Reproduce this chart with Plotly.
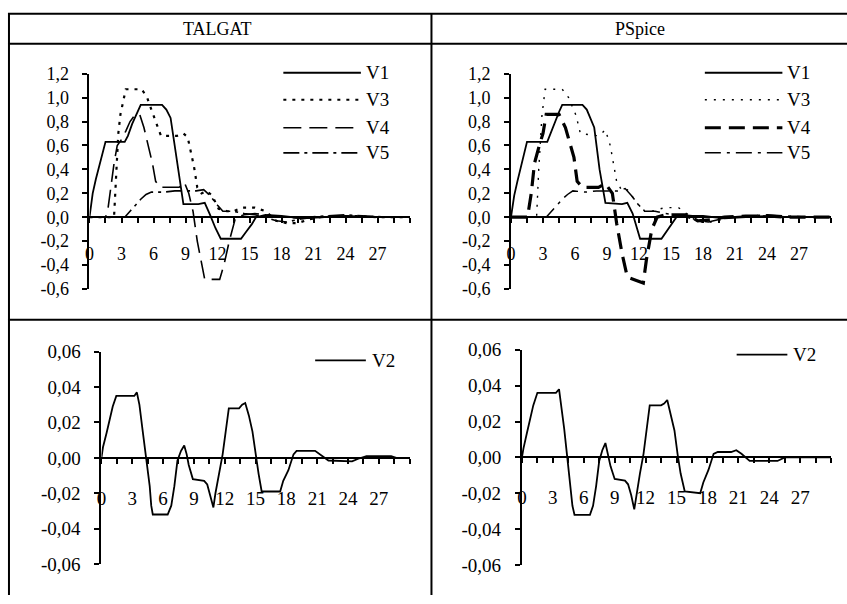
import plotly.graph_objects as go

# ---------------- DATA ----------------
x_tick_vals = [0, 3, 6, 9, 12, 15, 18, 21, 24, 27]
x_tick_text = ["0", "3", "6", "9", "12", "15", "18", "21", "24", "27"]
top_y_vals = [-0.6, -0.4, -0.2, 0.0, 0.2, 0.4, 0.6, 0.8, 1.0, 1.2]
top_y_text = ["-0,6", "-0,4", "-0,2", "0,0", "0,2", "0,4", "0,6", "0,8", "1,0", "1,2"]
bot_y_vals = [-0.06, -0.04, -0.02, 0.0, 0.02, 0.04, 0.06]
bot_y_text = ["-0,06", "-0,04", "-0,02", "0,00", "0,02", "0,04", "0,06"]
headers = ["TALGAT", "PSpice"]

# TALGAT, top panel
tal_v1_t = [0, 0.3, 0.6, 0.9, 1.2, 1.5, 3.3, 3.6, 4.0, 4.4, 4.8, 6.8, 7.2, 7.6, 8.0, 8.4, 8.8, 10.2, 10.8,
            11.3, 11.8, 12.3, 14.2, 14.7, 15.2, 15.6, 16.5, 18, 19, 20, 22, 24, 26, 28, 30]
tal_v1 = [0, 0.2, 0.32, 0.42, 0.52, 0.63, 0.63, 0.68, 0.78, 0.86, 0.94, 0.94, 0.9, 0.83, 0.6, 0.35, 0.11,
          0.11, 0.12, 0.02, -0.09, -0.18, -0.18, -0.12, -0.06, 0.0, 0.02, 0.01, 0.0, -0.01, 0.0, 0.01, 0.0, 0.0, 0.0]
tal_v3_t = [0, 2.3, 2.5, 2.7, 2.9, 3.2, 3.4, 4.9, 5.4, 5.8, 6.2, 6.7, 8.2, 8.8, 9.2, 9.5, 9.8, 10.1, 10.5,
            11.0, 11.5, 12.1, 12.9, 13.5, 14.3, 15.5, 16.5, 17.5, 18.5, 19.5, 20.5, 21.5, 23, 25, 27, 30]
tal_v3 = [0, 0, 0.35, 0.7, 0.86, 1.0, 1.07, 1.07, 1.0, 0.9, 0.8, 0.68, 0.68, 0.7, 0.67, 0.55, 0.42, 0.25,
          0.2, 0.22, 0.18, 0.07, 0.05, 0.05, 0.08, 0.08, 0.05, -0.03, -0.05, -0.05, -0.02, 0.0, 0.01, 0.01, 0.0, 0.0]
tal_v4_t = [0, 1.5, 1.7, 2.0, 2.3, 2.6, 3.0, 3.4, 3.8, 4.3, 4.7, 5.1, 5.5, 5.9, 6.2, 6.6, 8.4, 8.9, 9.3,
            9.7, 10.1, 10.5, 10.8, 12.2, 12.6, 13.1, 13.7, 14.5, 15.5, 16.5, 17.5, 18.5, 20, 22, 24, 26, 28, 30]
tal_v4 = [0, 0, 0.05, 0.25, 0.45, 0.6, 0.65, 0.72, 0.8, 0.86, 0.86, 0.75, 0.6, 0.45, 0.3, 0.25, 0.25, 0.29,
          0.2, 0.05, -0.2, -0.4, -0.52, -0.52, -0.4, -0.2, 0.0, 0.02, 0.03, 0.02, 0.0, 0.0, -0.01, 0.0, 0.01, 0.0, 0.0, 0.0]
tal_v5_t = [0, 3.3, 3.8, 4.3, 4.8, 5.3, 5.8, 7.0, 8.0, 9.0, 10.0, 10.7, 11.3, 12.0, 12.5, 13.5, 14.5, 15.5,
            16.5, 17.5, 18.5, 19.5, 20.5, 22, 24, 26, 28, 30]
tal_v5 = [0, 0, 0.05, 0.1, 0.15, 0.19, 0.21, 0.21, 0.22, 0.22, 0.22, 0.23, 0.18, 0.1, 0.05, 0.05, 0.03, 0.02,
          0.0, -0.03, -0.04, -0.02, 0.0, 0.01, 0.02, 0.01, 0.0, 0.0]

# PSpice, top panel
psp_v1_t = [0, 0.3, 0.6, 0.9, 1.2, 1.5, 3.4, 3.8, 4.1, 4.5, 4.8, 6.7, 7.1, 7.8, 8.3, 8.85, 10.4, 10.9,
            11.4, 11.8, 12.1, 14.1, 14.7, 15.5, 16.0, 17, 18, 19, 20, 22, 24, 26, 28, 30]
psp_v1 = [0, 0.18, 0.3, 0.41, 0.52, 0.63, 0.63, 0.72, 0.8, 0.88, 0.94, 0.94, 0.9, 0.75, 0.4, 0.12, 0.11,
          0.12, 0.03, -0.09, -0.18, -0.18, -0.1, 0.0, 0.02, 0.01, 0.01, 0.0, -0.01, 0.0, 0.01, 0.0, 0.0, 0.0]
psp_v3_t = [0, 2.4, 2.6, 2.9, 3.2, 4.8, 5.4, 6.1, 6.5, 8.2, 8.85, 9.3, 9.9, 10.4, 10.9, 11.6, 12.3, 13.2,
            14.4, 15.7, 16.5, 17.5, 19.0, 20.5, 22, 24, 26, 30]
psp_v3 = [0, 0, 0.4, 0.85, 1.07, 1.07, 1.0, 0.85, 0.7, 0.68, 0.73, 0.6, 0.3, 0.22, 0.23, 0.15, 0.06, 0.05,
          0.08, 0.08, 0.03, -0.04, -0.04, 0.0, 0.01, 0.01, 0.0, 0.0]
psp_v4_t = [0, 1.55, 1.9, 2.2, 2.65, 3.0, 3.3, 4.2, 4.5, 5.1, 5.9, 6.2, 6.7, 8.2, 8.85, 9.5, 9.9, 10.4,
            10.9, 11.5, 12.4, 12.7, 13.2, 13.7, 14.5, 16.5, 17.5, 18.8, 20, 22, 24, 26, 30]
psp_v4 = [0, 0, 0.2, 0.45, 0.6, 0.7, 0.86, 0.86, 0.86, 0.75, 0.5, 0.3, 0.25, 0.25, 0.28, 0.2, -0.05, -0.3,
          -0.5, -0.52, -0.55, -0.35, -0.1, 0.0, 0.02, 0.02, -0.03, -0.02, 0.0, 0.01, 0.01, 0.0, 0.0]
psp_v5_t = [0, 3.3, 3.8, 4.3, 4.8, 5.3, 5.8, 7.0, 8.0, 9.0, 10.0, 10.7, 11.3, 12.0, 12.5, 13.5, 14.5, 15.5,
            16.5, 17.5, 18.5, 19.5, 20.5, 22, 24, 26, 28, 30]
psp_v5 = [0, 0, 0.05, 0.1, 0.15, 0.19, 0.22, 0.21, 0.22, 0.22, 0.22, 0.24, 0.18, 0.1, 0.05, 0.05, 0.03, 0.02,
          0.0, -0.03, -0.04, -0.02, 0.0, 0.01, 0.02, 0.01, 0.0, 0.0]

# V2, bottom panels
tal_v2_t = [0, 0.15, 0.5, 0.8, 1.1, 1.45, 3.2, 3.45, 3.7, 4.0, 4.35, 4.7, 4.85, 5.0, 6.45, 6.8, 7.1, 7.4,
            7.75, 8.06, 8.3, 8.5, 8.9, 10.0, 10.3, 10.6, 10.9, 11.1, 11.45, 11.8, 12.1, 12.4, 13.4, 13.7,
            14.0, 14.35, 14.7, 15.0, 15.3, 15.6, 17.4, 17.7, 18.2, 18.7, 19.0, 20.8, 21.3, 22.1, 24.4, 25.0,
            25.8, 28.2, 28.7, 30]
tal_v2 = [0, 0.006, 0.014, 0.022, 0.029, 0.035, 0.035, 0.037, 0.03, 0.016, 0.0, -0.016, -0.027, -0.032,
          -0.032, -0.027, -0.016, -0.0015, 0.004, 0.007, 0.002, -0.004, -0.012, -0.013, -0.015, -0.021,
          -0.028, -0.02, -0.009, 0.002, 0.015, 0.028, 0.028, 0.03, 0.031, 0.024, 0.015, 0.002, -0.009,
          -0.019, -0.019, -0.013, -0.007, 0.002, 0.004, 0.004, 0.002, -0.0015, -0.002, -0.0005, 0.001,
          0.001, 0.0, 0.0]
psp_v2_t = [0, 0.15, 0.5, 0.8, 1.1, 1.5, 3.3, 3.6, 3.8, 4.1, 4.4, 4.7, 4.9, 5.1, 6.6, 6.9, 7.2, 7.5,
            7.8, 8.1, 8.35, 8.6, 9.0, 10.0, 10.3, 10.6, 10.9, 11.1, 11.45, 11.8, 12.1, 12.4, 13.5, 13.8,
            14.1, 14.4, 14.8, 15.1, 15.4, 15.8, 17.3, 17.6, 18.1, 18.6, 19.0, 20.3, 20.8, 21.3, 22.1, 24.8,
            25.5, 30]
psp_v2 = [0, 0.005, 0.014, 0.022, 0.029, 0.036, 0.036, 0.038, 0.03, 0.016, 0.0, -0.016, -0.027, -0.032,
          -0.032, -0.027, -0.016, -0.002, 0.004, 0.008, 0.002, -0.005, -0.012, -0.013, -0.015, -0.021,
          -0.029, -0.021, -0.009, 0.002, 0.015, 0.029, 0.029, 0.03, 0.032, 0.025, 0.015, 0.002, -0.009,
          -0.019, -0.02, -0.014, -0.007, 0.002, 0.003, 0.003, 0.004, 0.002, -0.002, -0.002, 0.0, 0.0]

# ---------------- STYLE ----------------
W, H = 847, 604
FONT = "Liberation Serif"


def fx(p):
    return p / W


def fy(p):
    return 1 - p / H


styles_tal = {
    "V1": dict(width=1.8, dash="solid"),
    "V3": dict(width=2.2, dash="3px,6px"),
    "V4": dict(width=1.6, dash="18px,8px"),
    "V5": dict(width=1.6, dash="16px,5px,3px,5px"),
}
styles_psp = {
    "V1": dict(width=1.8, dash="solid"),
    "V3": dict(width=1.4, dash="2px,7px"),
    "V4": dict(width=3.2, dash="16px,8px"),
    "V5": dict(width=1.5, dash="16px,6px,3px,6px"),
}

fig = go.Figure()

panels = [
    ("x", "y", [("V1", tal_v1_t, tal_v1), ("V3", tal_v3_t, tal_v3), ("V4", tal_v4_t, tal_v4),
                ("V5", tal_v5_t, tal_v5)], styles_tal),
    ("x2", "y2", [("V1", psp_v1_t, psp_v1), ("V3", psp_v3_t, psp_v3), ("V4", psp_v4_t, psp_v4),
                  ("V5", psp_v5_t, psp_v5)], styles_psp),
    ("x3", "y3", [("V2", tal_v2_t, tal_v2)], {"V2": dict(width=1.8, dash="solid")}),
    ("x4", "y4", [("V2", psp_v2_t, psp_v2)], {"V2": dict(width=1.8, dash="solid")}),
]

for xa, ya, series, st in panels:
    for name, t, v in series:
        fig.add_trace(go.Scatter(x=t, y=v, mode="lines", name=name, xaxis=xa, yaxis=ya,
                                 line=dict(color="black", **st[name]), showlegend=False,
                                 hoverinfo="skip"))

geo = {
    1: dict(x0=85, x1=407, y0=66, y1=289, yr=(-0.6, 1.2), yv=top_y_vals, yt=top_y_text, fs=18, so=15),
    2: dict(x0=509, x1=831, y0=66, y1=289, yr=(-0.6, 1.2), yv=top_y_vals, yt=top_y_text, fs=18, so=15),
    3: dict(x0=97, x1=407, y0=354, y1=574, yr=(-0.06, 0.06), yv=bot_y_vals, yt=bot_y_text, fs=19, so=18),
    4: dict(x0=520, x1=831, y0=352, y1=575, yr=(-0.06, 0.06), yv=bot_y_vals, yt=bot_y_text, fs=19, so=18),
}

layout = dict(width=W, height=H, margin=dict(l=0, r=0, t=0, b=0), paper_bgcolor="white",
              plot_bgcolor="rgba(0,0,0,0)", showlegend=False, font=dict(family=FONT, color="black"))
for i, g in geo.items():
    sfx = "" if i == 1 else str(i)
    ydom = [fy(g["y1"]), fy(g["y0"])]
    frac0 = (0 - g["yr"][0]) / (g["yr"][1] - g["yr"][0])
    pos = ydom[0] + frac0 * (ydom[1] - ydom[0])
    layout["xaxis" + sfx] = dict(
        domain=[fx(g["x0"]), fx(g["x1"])], range=[0, 30], anchor="free", position=pos,
        showline=True, linecolor="black", linewidth=2, showgrid=False, zeroline=False,
        tickmode="array", tickvals=x_tick_vals, ticktext=x_tick_text,
        ticks="outside", ticklen=5, tickwidth=1.5, tickcolor="black", ticklabelstandoff=g["so"],
        minor=dict(dtick=1.5, tick0=0, ticks="outside", ticklen=5, tickwidth=1.5, tickcolor="black",
                   showgrid=False),
        tickfont=dict(family=FONT, size=g["fs"], color="black"), fixedrange=True)
    layout["yaxis" + sfx] = dict(
        domain=ydom, range=list(g["yr"]), anchor="x" + sfx,
        showline=True, linecolor="black", linewidth=2, showgrid=False, zeroline=False,
        tickmode="array", tickvals=g["yv"], ticktext=g["yt"],
        ticks="outside", ticklen=5, tickwidth=1.5, tickcolor="black", ticklabelstandoff=10,
        tickfont=dict(family=FONT, size=g["fs"], color="black"), fixedrange=True)

shapes = []
annotations = []

# table grid lines
for yv in (4, 35, 321):
    shapes.append(dict(type="line", xref="paper", yref="paper", x0=fx(3), x1=fx(W + 2), y0=fy(yv), y1=fy(yv),
                       line=dict(color="black", width=2)))
for xv in (4, 429):
    shapes.append(dict(type="line", xref="paper", yref="paper", x0=fx(xv), x1=fx(xv), y0=fy(3), y1=fy(H + 2),
                       line=dict(color="black", width=2)))

# header texts
for txt, cx in ((headers[0], 214), (headers[1], 639)):
    annotations.append(dict(text=txt, x=fx(cx), y=fy(20), xref="paper", yref="paper", showarrow=False,
                            xanchor="center", yanchor="middle",
                            font=dict(family=FONT, size=18, color="black")))

# legends (drawn keys)
legend_rows = [("V1", 65), ("V3", 93), ("V4", 122), ("V5", 148)]
for off in (0, 424):
    st = styles_tal if off == 0 else styles_psp
    for name, yy in legend_rows:
        shapes.append(dict(type="line", xref="paper", yref="paper", x0=fx(280 + off), x1=fx(358 + off),
                           y0=fy(yy), y1=fy(yy), line=dict(color="black", **st[name])))
        annotations.append(dict(text=name, x=fx(361 + off), y=fy(yy), xref="paper", yref="paper",
                                xanchor="left", yanchor="middle", showarrow=False,
                                font=dict(family=FONT, size=19, color="black")))
for (lx0, lx1, ly) in ((312, 363, 363), (736, 787, 357)):
    shapes.append(dict(type="line", xref="paper", yref="paper", x0=fx(lx0), x1=fx(lx1), y0=fy(ly), y1=fy(ly),
                       line=dict(color="black", width=1.8)))
    annotations.append(dict(text="V2", x=fx(lx1 + 4), y=fy(ly), xref="paper", yref="paper",
                            xanchor="left", yanchor="middle", showarrow=False,
                            font=dict(family=FONT, size=19, color="black")))

layout["shapes"] = shapes
layout["annotations"] = annotations
fig.update_layout(**layout)
fig.write_html("out.html")
